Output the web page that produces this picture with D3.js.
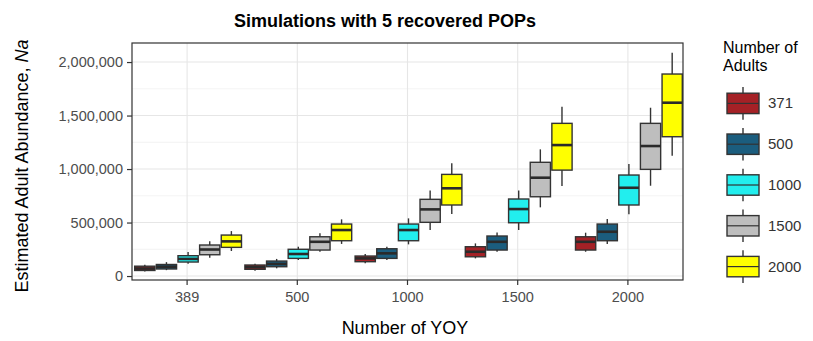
<!DOCTYPE html>
<html lang="en">
<head>
    <meta charset="UTF-8">
    <title>Simulations with 5 recovered POPs</title>
    <script src="https://d3js.org/d3.v7.min.js"></script>
    <style>
        body { margin: 0; background: #fff; }
        text { font-family: "Liberation Sans", Arial, sans-serif; }
    </style>
</head>
<body>
<script>
    const width  = 813;
    const height = 341;

    // x groups (number of YOY) and fill groups (number of adults)
    const yoy    = ["389", "500", "1000", "1500", "2000"];
    const adults = ["371", "500", "1000", "1500", "2000"];
    const colors = ["#a52126", "#1b5d7e", "#22eeee", "#bebebe", "#ffff00"];

    // box stats per adults level, one row per YOY group: [low, q1, median, q3, high]
    const a371  = [[42e3, 52e3, 70e3, 92e3, 105e3], [50e3, 63e3, 83e3, 103e3, 115e3],
                   [120e3, 134e3, 165e3, 187e3, 206e3], [165e3, 180e3, 227e3, 274e3, 305e3],
                   [227e3, 243e3, 320e3, 367e3, 405e3]];
    const a500  = [[55e3, 66e3, 87e3, 108e3, 130e3], [72e3, 87e3, 113e3, 140e3, 160e3],
                   [150e3, 165e3, 212e3, 255e3, 274e3], [227e3, 243e3, 320e3, 374e3, 408e3],
                   [300e3, 330e3, 414e3, 486e3, 533e3]];
    const a1000 = [[115e3, 131e3, 160e3, 190e3, 224e3], [150e3, 165e3, 206e3, 250e3, 274e3],
                   [296e3, 330e3, 430e3, 486e3, 539e3], [430e3, 498e3, 626e3, 720e3, 800e3],
                   [577e3, 664e3, 825e3, 944e3, 1047e3]];
    const a1500 = [[170e3, 199e3, 248e3, 290e3, 324e3], [227e3, 243e3, 320e3, 367e3, 400e3],
                   [430e3, 502e3, 623e3, 717e3, 800e3], [642e3, 741e3, 919e3, 1063e3, 1184e3],
                   [844e3, 997e3, 1215e3, 1427e3, 1573e3]];
    const a2000 = [[234e3, 268e3, 324e3, 383e3, 420e3], [300e3, 330e3, 430e3, 486e3, 530e3],
                   [580e3, 664e3, 820e3, 950e3, 1053e3], [841e3, 990e3, 1224e3, 1427e3, 1582e3],
                   [1124e3, 1302e3, 1620e3, 1888e3, 2087e3]];
    const series = [a371, a500, a1000, a1500, a2000];

    const yTicks = [0, 500000, 1000000, 1500000, 2000000];
    const yMinor = [250000, 750000, 1250000, 1750000];

    const panel = {left: 132, right: 683, top: 43, bottom: 280};

    const x = d3.scaleBand().domain(yoy).range([panel.left, panel.right]).padding(0);
    const xInner = d3.scaleBand().domain(adults).range([2, x.bandwidth()]).padding(0);
    const y = d3.scaleLinear().domain([-37000, 2178000]).range([panel.bottom, panel.top]);
    const fill = d3.scaleOrdinal().domain(adults).range(colors);

    const svg = d3.select("body").append("svg")
        .attr("width", width)
        .attr("height", height);

    svg.append("rect").attr("width", width).attr("height", height).attr("fill", "#fff");

    // grid
    const grid = svg.append("g");
    grid.selectAll(".minor").data(yMinor).join("line")
        .attr("x1", panel.left).attr("x2", panel.right)
        .attr("y1", d => y(d)).attr("y2", d => y(d))
        .attr("stroke", "#f0f0f0").attr("stroke-width", 0.8);
    grid.selectAll(".major").data(yTicks).join("line")
        .attr("x1", panel.left).attr("x2", panel.right)
        .attr("y1", d => y(d)).attr("y2", d => y(d))
        .attr("stroke", "#e6e6e6").attr("stroke-width", 1.1);
    grid.selectAll(".vx").data(yoy).join("line")
        .attr("x1", d => x(d) + x.bandwidth() / 2).attr("x2", d => x(d) + x.bandwidth() / 2)
        .attr("y1", panel.top).attr("y2", panel.bottom)
        .attr("stroke", "#e6e6e6").attr("stroke-width", 1.1);

    // boxes
    const boxes = [];
    series.forEach((s, i) => s.forEach((st, j) => boxes.push({adult: adults[i], group: yoy[j], st: st})));

    const bw = xInner.bandwidth();
    const gBox = svg.append("g").selectAll("g").data(boxes).join("g")
        .attr("transform", d => "translate(" + (x(d.group) + xInner(d.adult)) + ",0)");

    gBox.append("line")
        .attr("x1", bw / 2).attr("x2", bw / 2)
        .attr("y1", d => y(d.st[0])).attr("y2", d => y(d.st[4]))
        .attr("stroke", "#333").attr("stroke-width", 1.4);
    gBox.append("rect")
        .attr("x", 0.7).attr("width", bw - 1.4)
        .attr("y", d => y(d.st[3])).attr("height", d => y(d.st[1]) - y(d.st[3]))
        .attr("fill", d => fill(d.adult))
        .attr("stroke", "#333").attr("stroke-width", 1.4);
    gBox.append("line")
        .attr("x1", 0.7).attr("x2", bw - 0.7)
        .attr("y1", d => y(d.st[2])).attr("y2", d => y(d.st[2]))
        .attr("stroke", "#2a2a2a").attr("stroke-width", 2.6);

    // panel border
    svg.append("rect")
        .attr("x", panel.left).attr("y", panel.top)
        .attr("width", panel.right - panel.left).attr("height", panel.bottom - panel.top)
        .attr("fill", "none").attr("stroke", "#333").attr("stroke-width", 1.2);

    // axes
    const yAxis = svg.append("g")
        .attr("transform", "translate(" + panel.left + ",0)")
        .call(d3.axisLeft(y).tickValues(yTicks).tickSize(5).tickPadding(4).tickFormat(d3.format(",")));
    const xAxis = svg.append("g")
        .attr("transform", "translate(0," + panel.bottom + ")")
        .call(d3.axisBottom(x).tickSize(5).tickPadding(7));
    [yAxis, xAxis].forEach(a => {
        a.select(".domain").remove();
        a.selectAll(".tick line").attr("stroke", "#333").attr("stroke-width", 1.2);
        a.selectAll(".tick text").attr("fill", "#4d4d4d")
            .style("font-size", "14.5px").style("font-family", "Liberation Sans, Arial, sans-serif");
    });

    // titles
    svg.append("text")
        .attr("x", 385).attr("y", 27)
        .attr("text-anchor", "middle")
        .style("font-size", "18px").style("font-weight", "bold")
        .text("Simulations with 5 recovered POPs");

    svg.append("text")
        .attr("x", 405).attr("y", 334)
        .attr("text-anchor", "middle")
        .style("font-size", "18px")
        .text("Number of YOY");

    const yt = svg.append("text")
        .attr("transform", "translate(28,166) rotate(-90)")
        .attr("text-anchor", "middle")
        .style("font-size", "18px");
    yt.append("tspan").text("Estimated Adult Abundance, ");
    yt.append("tspan").style("font-style", "italic").text("Na");

    // legend
    const legend = svg.append("g");
    legend.append("text").attr("x", 723).attr("y", 53).style("font-size", "16px").text("Number of");
    legend.append("text").attr("x", 723).attr("y", 71).style("font-size", "16px").text("Adults");

    const keyY = d3.scaleBand().domain(adults).range([83, 287]).padding(0);
    const keys = legend.selectAll(".key").data(adults).join("g")
        .attr("transform", d => "translate(727," + keyY(d) + ")");
    const kh = keyY.bandwidth();
    keys.append("line")
        .attr("x1", 16).attr("x2", 16).attr("y1", kh * 0.1).attr("y2", kh * 0.9)
        .attr("stroke", "#333").attr("stroke-width", 1.4);
    keys.append("rect")
        .attr("x", 0).attr("width", 32).attr("y", kh * 0.25).attr("height", kh * 0.5)
        .attr("fill", d => fill(d)).attr("stroke", "#333").attr("stroke-width", 1.4);
    keys.append("line")
        .attr("x1", 0).attr("x2", 32).attr("y1", kh / 2).attr("y2", kh / 2)
        .attr("stroke", "#333").attr("stroke-width", 1.2);
    keys.append("text")
        .attr("x", 41).attr("y", kh / 2 + 5)
        .attr("fill", "#333")
        .style("font-size", "15px")
        .text(d => d);
</script>
</body>
</html>
